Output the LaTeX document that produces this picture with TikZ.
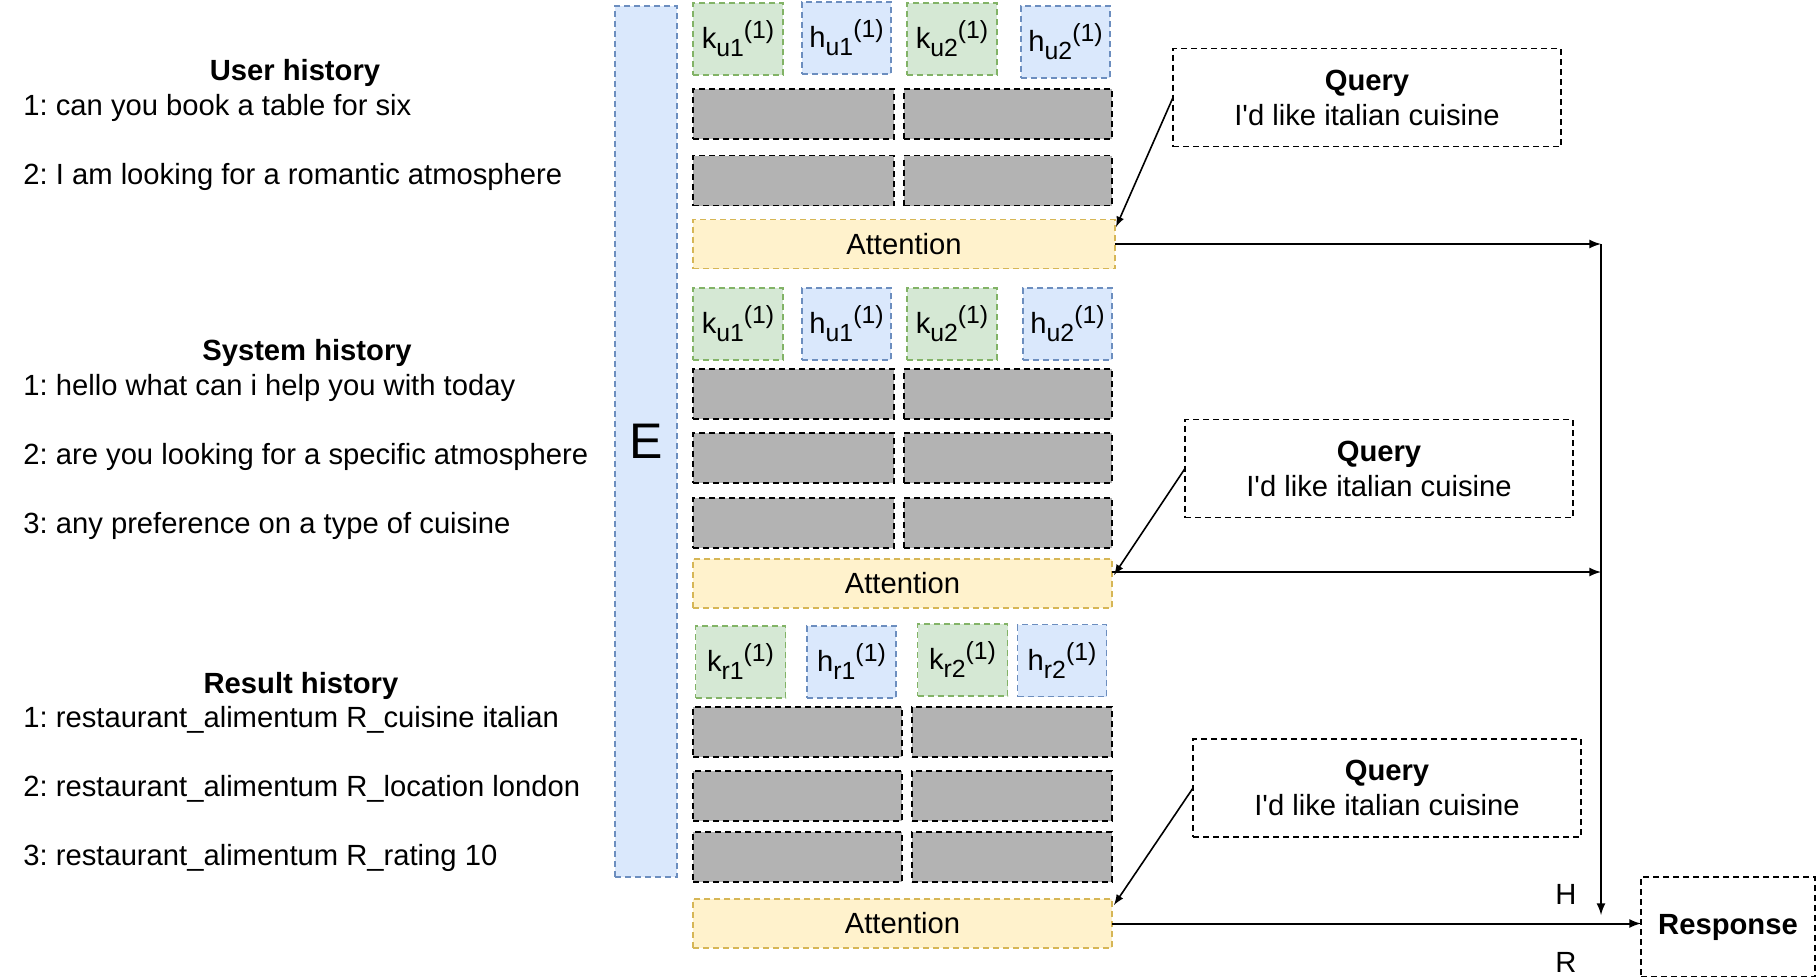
\documentclass[tikz,border=0pt]{standalone}
\usepackage{fontspec}
\setmainfont{Liberation Sans}

\definecolor{keyfill}{HTML}{D5E8D4}
\definecolor{keyline}{HTML}{82B366}
\definecolor{valfill}{HTML}{DAE8FC}
\definecolor{valline}{HTML}{6C8EBF}
\definecolor{attfill}{HTML}{FFF2CC}
\definecolor{attline}{HTML}{D6B656}
\definecolor{slotgray}{HTML}{B3B3B3}

\newcommand{\memlab}[2]{#1\raisebox{-4pt}{\fontsize{12.4}{12}\selectfont #2}\raisebox{5pt}{\fontsize{12.4}{12}\selectfont (1)}}

\tikzset{
  cell/.style={draw, dash pattern=on 3pt off 2pt, line width=0.9pt, inner sep=0pt, outer sep=0pt},
  keycell/.style={cell, draw=keyline, fill=keyfill, minimum width=45pt, minimum height=36pt},
  valcell/.style={cell, draw=valline, fill=valfill, minimum width=44.5pt, minimum height=36pt},
  slot/.style={cell, draw=black, fill=slotgray, minimum height=25pt},
  attn/.style={cell, draw=attline, fill=attfill, minimum width=209.5pt, minimum height=24.5pt},
  query/.style={cell, draw=black, fill=white, minimum width=194pt, minimum height=49pt, align=center},
  hist/.style={anchor=west, inner sep=0pt},
  histtitle/.style={inner sep=0pt, font=\bfseries},
  flow/.style={-latex, line width=1pt},
}

\begin{document}
\fontsize{14.6}{17.5}\selectfont\frenchspacing
\begin{tikzpicture}[x=0.5pt,y=-0.5pt]
\useasboundingbox (0,0) rectangle (1816,976);

% histories
\node[histtitle] (u-title) at (295,73) {User history};
\node[hist] (u-l1) at (23,108) {1: can you book a table for six};
\node[hist] (u-l2) at (23,177) {2: I am looking for a romantic atmosphere};
\node[histtitle] (s-title) at (307,353) {System history};
\node[hist] (s-l1) at (23,388) {1: hello what can i help you with today};
\node[hist] (s-l2) at (23,457) {2: are you looking for a specific atmosphere};
\node[hist] (s-l3) at (23,526) {3: any preference on a type of cuisine};
\node[histtitle] (r-title) at (301,686) {Result history};
\node[hist] (r-l1) at (23,720) {1: restaurant\_alimentum R\_cuisine italian};
\node[hist] (r-l2) at (23,789) {2: restaurant\_alimentum R\_location london};
\node[hist] (r-l3) at (23,858) {3: restaurant\_alimentum R\_rating 10};

% embedding column
\node[cell, draw=valline, fill=valfill, minimum width=31pt, minimum height=435.5pt] (emb) at (646,441.5) {\fontsize{25}{30}\selectfont E};

% user memory
\node[keycell] (u-k1) at (738,39) {\memlab{k}{u1}};
\node[valcell] (u-h1) at (846.5,38) {\memlab{h}{u1}};
\node[keycell] (u-k2) at (952,39) {\memlab{k}{u2}};
\node[valcell] (u-h2) at (1065.5,42) {\memlab{h}{u2}};
\node[slot, minimum width=100.5pt] (u-s11) at (793.5,114) {};
\node[slot, minimum width=104pt] (u-s12) at (1008,114) {};
\node[slot, minimum width=100.5pt] (u-s21) at (793.5,180.5) {};
\node[slot, minimum width=104pt] (u-s22) at (1008,180.5) {};
\node[attn, minimum width=211pt] (u-att) at (904,244) {Attention};

% system memory
\node[keycell] (s-k1) at (738,324) {\memlab{k}{u1}};
\node[valcell] (s-h1) at (846.5,324) {\memlab{h}{u1}};
\node[keycell] (s-k2) at (952,324) {\memlab{k}{u2}};
\node[valcell] (s-h2) at (1067.5,324) {\memlab{h}{u2}};
\node[slot, minimum width=100.5pt] (s-s11) at (793.5,394) {};
\node[slot, minimum width=104pt] (s-s12) at (1008,394) {};
\node[slot, minimum width=100.5pt] (s-s21) at (793.5,458) {};
\node[slot, minimum width=104pt] (s-s22) at (1008,458) {};
\node[slot, minimum width=100.5pt] (s-s31) at (793.5,523) {};
\node[slot, minimum width=104pt] (s-s32) at (1008,523) {};
\node[attn] (s-att) at (902.5,583.5) {Attention};

% result memory
\node[keycell] (r-k1) at (740.5,662) {\memlab{k}{r1}};
\node[valcell] (r-h1) at (851.5,662) {\memlab{h}{r1}};
\node[keycell] (r-k2) at (962.5,660) {\memlab{k}{r2}};
\node[valcell] (r-h2) at (1062,660.5) {\memlab{h}{r2}};
\node[slot, minimum width=104.5pt] (r-s11) at (797.5,732) {};
\node[slot, minimum width=100pt] (r-s12) at (1012,732) {};
\node[slot, minimum width=104.5pt] (r-s21) at (797.5,796) {};
\node[slot, minimum width=100pt] (r-s22) at (1012,796) {};
\node[slot, minimum width=104.5pt] (r-s31) at (797.5,857) {};
\node[slot, minimum width=100pt] (r-s32) at (1012,857) {};
\node[attn] (r-att) at (902.5,923.5) {Attention};

% queries and response
\node[query] (u-q) at (1367,97.5) {\textbf{Query}\\I\textquotesingle d like italian cuisine};
\node[query] (s-q) at (1379,468.5) {\textbf{Query}\\I\textquotesingle d like italian cuisine};
\node[query] (r-q) at (1387,788) {\textbf{Query}\\I\textquotesingle d like italian cuisine};
\node[cell, draw=black, minimum width=87pt, minimum height=50pt, font=\bfseries] (resp) at (1728,927) {Response};
\node (h-lab) at (1566,894) {H};
\node (r-lab) at (1566,962) {R};

\coordinate (u-j) at (1601,244);
\coordinate (s-j) at (1601,572);
\coordinate (h-end) at (1601,915);
\coordinate (u-tip) at (1116,227);
\coordinate (s-tip) at (1114,575);
\coordinate (r-tip) at (1114,905);

\draw[-latex, line width=0.8pt] (u-q.west) -- (u-tip);
\draw[-latex, line width=0.8pt] (s-q.west) -- (s-tip);
\draw[-latex, line width=0.8pt] (r-q.west) -- (r-tip);
\draw[flow] (u-att.east) -- (u-j);
\draw[flow] (s-att.east |- s-j) -- (s-j);
\draw[flow] (u-j) -- (h-end);
\draw[flow] (r-att.east) -- (resp.west |- r-att.east);
\end{tikzpicture}
\end{document}
